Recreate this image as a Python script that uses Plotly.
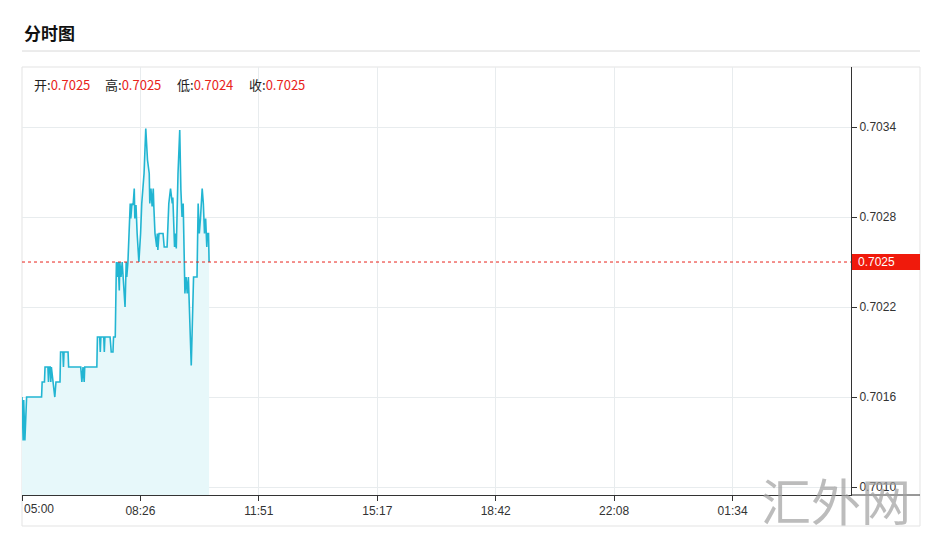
import plotly.graph_objects as go

# ---- data ----
times = ["05:00","05:02","05:03","05:05","05:08","05:34","05:35","05:39","05:40","05:45",
         "05:46","05:47","05:49","05:50","05:51","05:54","05:57","05:59","06:06","06:07",
         "06:11","06:12","06:13","06:20","06:21","06:42","06:44","06:46","06:48","06:49",
         "07:10","07:11","07:15","07:16","07:17","07:22","07:23","07:24","07:33","07:35",
         "07:38","07:39","07:42","07:44","07:46","07:47","07:49","07:50","07:52","07:54",
         "07:56","07:59","08:01","08:02","08:04","08:08","08:09","08:11","08:13","08:15",
         "08:16","08:18","08:20","08:23","08:26","08:28","08:32","08:35","08:38","08:41",
         "08:42","08:44","08:46","08:48","08:49","08:51","08:54","08:55","08:56","08:58",
         "09:05","09:07","09:12","09:15","09:18","09:21","09:22","09:25","09:27","09:28",
         "09:31","09:34","09:36","09:38","09:40","09:41","09:43","09:45","09:47","09:49",
         "09:54","09:58","10:04","10:06","10:08","10:10","10:13","10:15","10:17","10:19",
         "10:21","10:22","10:24","10:25"]
prices = [0.7016,0.70131,0.70158,0.70131,0.7016,0.7016,0.7017,0.7017,0.7018,0.7018,
          0.7017,0.7018,0.7018,0.7017,0.7018,0.7017,0.7016,0.7017,0.7017,0.7019,
          0.7019,0.7018,0.7019,0.7019,0.7018,0.7018,0.7017,0.7018,0.7017,0.7018,
          0.7018,0.7020,0.7020,0.7019,0.7020,0.7020,0.7019,0.7020,0.7020,0.7019,
          0.7019,0.7020,0.7020,0.7025,0.7024,0.7025,0.70231,0.7025,0.7024,0.7025,
          0.7024,0.7022,0.7025,0.7024,0.7025,0.70289,0.70279,0.70289,0.70288,0.70299,
          0.70279,0.70288,0.70269,0.7025,0.70269,0.70289,0.70309,0.70339,0.70318,0.70309,
          0.70289,0.70299,0.70287,0.70299,0.70287,0.70269,0.7026,0.70269,0.70258,0.70269,
          0.70269,0.7026,0.7026,0.70289,0.70299,0.70289,0.70293,0.7026,0.70269,0.70259,
          0.70309,0.70338,0.70298,0.7028,0.70289,0.70258,0.70229,0.7024,0.70229,0.7024,
          0.70181,0.7024,0.7024,0.70289,0.70269,0.70279,0.70299,0.70289,0.70269,0.70279,
          0.7026,0.70269,0.70269,0.7025]
x_tick_labels = ["05:00","08:26","11:51","15:17","18:42","22:08","01:34"]
y_tick_vals = [0.7010, 0.7016, 0.7022, 0.7028, 0.7034]
last_price = 0.7025
ohlc = [("开", "0.7025"), ("高", "0.7025"), ("低", "0.7024"), ("收", "0.7025")]
y_range = [0.700947, 0.7038]
session_minutes = 1440

def to_min(t):
    h, m = map(int, t.split(":"))
    return ((h * 60 + m) - 300) % 1440

xs = [to_min(t) for t in times]
tick_pos = [i * session_minutes / 7 for i in range(7)]
# first label is drawn left-aligned (as in the source chart) via an annotation
tick_text = [""] + x_tick_labels[1:]

LINE = "#22b5d2"
FILL = "#e7f8fa"
RED = "#e8231b"
GRID = "#e8ecee"
AXIS = "#333333"
FONT = "Liberation Sans, Arial, sans-serif"

fig = go.Figure()
fig.add_trace(go.Scatter(
    x=xs, y=prices, mode="lines",
    line=dict(color=LINE, width=1.6),
    fill="tozeroy", fillcolor=FILL,
    hoverinfo="skip", showlegend=False))

fig.update_layout(
    width=928, height=540,
    margin=dict(l=22, r=77, t=67, b=45, autoexpand=False),
    paper_bgcolor="white", plot_bgcolor="white",
    font=dict(family=FONT, size=12, color=AXIS),
    xaxis=dict(range=[0, session_minutes], tickvals=tick_pos, ticktext=tick_text,
               showgrid=True, gridcolor=GRID, gridwidth=1,
               showline=True, linecolor=AXIS, linewidth=1,
               ticks="outside", ticklen=5, tickcolor=AXIS,
               zeroline=False, fixedrange=True, automargin=False,
               tickfont=dict(family=FONT, size=12, color=AXIS)),
    yaxis=dict(range=y_range, side="right", tickvals=y_tick_vals,
               tickformat=".4f",
               showgrid=True, gridcolor=GRID, gridwidth=1,
               showline=True, linecolor=AXIS, linewidth=1,
               ticks="outside", ticklen=5, tickcolor=AXIS,
               zeroline=False, fixedrange=True, automargin=False,
               tickfont=dict(family=FONT, size=12, color=AXIS)),
)

x_right = (920 - 22) / 829.0
frame_bottom = (495 - 526) / 428.0
title_line_y = (495 - 51) / 428.0
shapes = [
    dict(type="rect", xref="paper", yref="paper", x0=0, x1=x_right, y0=frame_bottom, y1=1,
         line=dict(color="#e3e3e3", width=1), layer="below"),
    dict(type="line", xref="paper", yref="paper", x0=0, x1=x_right, y0=title_line_y, y1=title_line_y,
         line=dict(color="#d8d8d8", width=1)),
    dict(type="line", xref="paper", yref="paper", x0=1, x1=x_right, y0=0, y1=0,
         line=dict(color=AXIS, width=1)),
    dict(type="line", xref="paper", yref="y", x0=0, x1=1, y0=last_price, y1=last_price,
         line=dict(color=RED, width=1, dash="dot")),
    dict(type="rect", xref="paper", yref="y", x0=1.0012, x1=x_right,
         y0=last_price - 0.0000530, y1=last_price + 0.0000530,
         fillcolor="#f01a0c", line=dict(width=0)),
]
fig.update_layout(shapes=shapes)

annotations = [
    dict(text="<b>分时图</b>", xref="paper", yref="paper", x=0, y=(495 - 32) / 428.0,
         xanchor="left", yanchor="middle", showarrow=False,
         font=dict(family="Noto Sans CJK SC", size=17, color="#111111")),
    dict(text=f"{last_price:.4f}", xref="paper", yref="y", x=1.006, y=last_price,
         xanchor="left", yanchor="middle", showarrow=False,
         font=dict(family=FONT, size=12, color="white")),
    dict(text=x_tick_labels[0], xref="x", yref="paper", x=tick_pos[0], y=(495 - 509) / 428.0,
         xanchor="left", yanchor="middle", showarrow=False,
         font=dict(family=FONT, size=12, color=AXIS)),
    dict(text="汇外网", xref="paper", yref="paper", x=(836 - 22) / 829.0, y=(495 - 499) / 428.0,
         xanchor="center", yanchor="middle", showarrow=False,
         font=dict(family="Noto Sans CJK SC", size=50, color="rgba(160,160,160,0.7)")),
]
ohlc_x = [32, 103, 175, 247]
for (lab, val), px in zip(ohlc, ohlc_x):
    annotations.append(dict(
        text=f"<span style='color:#222'>{lab}:</span><span style='color:{RED}'>{val}</span>",
        xref="paper", yref="paper", x=(px - 22) / 829.0, y=(495 - 84) / 428.0,
        xanchor="left", yanchor="middle", showarrow=False,
        font=dict(family="Noto Sans CJK SC, " + FONT, size=13)))
fig.update_layout(annotations=annotations)

fig.write_html("out.html")
